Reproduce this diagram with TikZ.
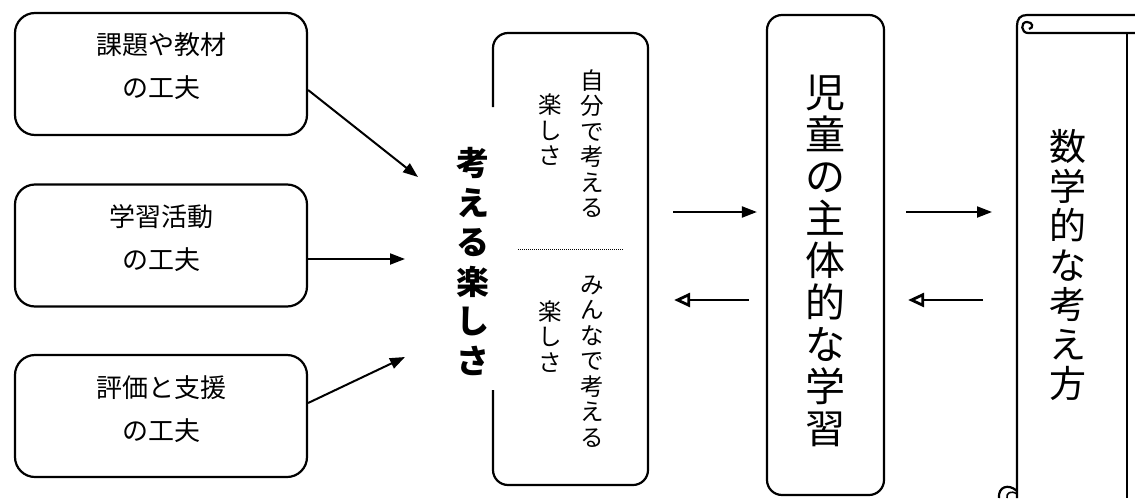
\documentclass[tikz,border=0pt]{standalone}
\usepackage{fontspec}
\newfontfamily\jp{Noto Sans CJK JP}
\usetikzlibrary{arrows.meta}
\begin{document}
\begin{tikzpicture}[x=1pt,y=-1pt,line width=2.2pt,
  lbox/.style={draw,rounded corners=20pt,minimum width=292pt,minimum height=122pt,inner sep=0pt},
  ltext/.style={align=center,inner sep=0pt,font=\jp\fontsize{26}{43}\selectfont},
  vsmall/.style={align=center,inner sep=0pt,font=\jp\fontsize{23.5}{25.5}\selectfont},
  arr/.style={-{Triangle[length=15pt,width=11pt]},line width=2pt},
  barr/.style={-{Triangle[open,length=16pt,width=14pt,line width=2.8pt]},line width=2pt}]
\useasboundingbox (0,0) rectangle (1135,498);

% left boxes
\node[lbox] (b1) at (161,74) {};
\node[lbox] (b2) at (161,245.5) {};
\node[lbox] (b3) at (161,416) {};
\node[ltext] (t1) at (161,66.5) {課題や教材\\の工夫};
\node[ltext] (t2) at (161,238.5) {学習活動\\の工夫};
\node[ltext] (t3) at (161,409) {評価と支援\\の工夫};

% bold label
\node[align=center,inner sep=0pt,font=\jp\bfseries\fontsize{33}{39.5}\selectfont] (ks) at (473,261.5) {考\\え\\る\\楽\\し\\さ};

\coordinate (e1) at (418,177);
\coordinate (e2) at (405,259);
\coordinate (e3) at (405,357);
\draw[arr] ([yshift=-16pt]b1.east) -- (e1);
\draw[arr] ([yshift=-13.5pt]b2.east) -- (e2);
\draw[arr] ([yshift=13pt]b3.east) -- (e3);

% middle box
\node[minimum width=155pt,minimum height=452pt,inner sep=0pt] (mid) at (570.5,259) {};
\draw[rounded corners=15pt] (493,107) -- (493,33) -- (648,33) -- (648,485) -- (493,485) -- (493,390);
\draw[line width=0.9pt,dash pattern=on 1pt off 1pt] (518,249) -- (623,249);
\node[vsmall] (s1) at (592,143.5) {自\\分\\で\\考\\え\\る};
\node[vsmall] (s2) at (550,130) {楽\\し\\さ};
\node[vsmall] (s3) at (592,361.5) {み\\ん\\な\\で\\考\\え\\る};
\node[vsmall] (s4) at (550,336.5) {楽\\し\\さ};

% child box
\node[draw,rounded corners=15pt,minimum width=117pt,minimum height=480pt,inner sep=0pt] (ch) at (825.5,255) {};
\node[align=center,inner sep=0pt,font=\jp\fontsize{40}{42}\selectfont] (cht) at (825,261) {児\\童\\の\\主\\体\\的\\な\\学\\習};

% scroll
\node[minimum width=118pt,minimum height=483pt,inner sep=0pt] (sc) at (1076,256.5) {};
\draw (1135,15) -- (1027,15) .. controls (1020,15) and (1017,19) .. (1017,26) -- (1017,498);
\draw (1135,33) -- (1028,33) .. controls (1021,33) and (1020,22) .. (1027,22) .. controls (1033,22) and (1034,28) .. (1029,29);
\draw (1127,33) -- (1127,498);
\draw (1017,491) .. controls (1008,483) and (998,487) .. (999,498);
\draw[line width=1.6pt] (1017,494) .. controls (1011,490) and (1006,493) .. (1007,498);
\node[align=center,inner sep=0pt,font=\jp\fontsize{37}{39.5}\selectfont] (sct) at (1068,265) {数\\学\\的\\な\\考\\え\\方};

% arrows between columns
\draw[arr,shorten <=24pt,shorten >=9pt] (mid.east |- 0,212) -- (ch.west |- 0,212);
\draw[barr,shorten <=17pt,shorten >=25pt] (ch.west |- 0,300) -- (mid.east |- 0,300);
\draw[arr,shorten <=21pt,shorten >=25pt] (ch.east |- 0,212) -- (1017,212);
\draw[barr,shorten <=34pt,shorten >=23pt] (1017,300) -- (ch.east |- 0,300);
\end{tikzpicture}
\end{document}
